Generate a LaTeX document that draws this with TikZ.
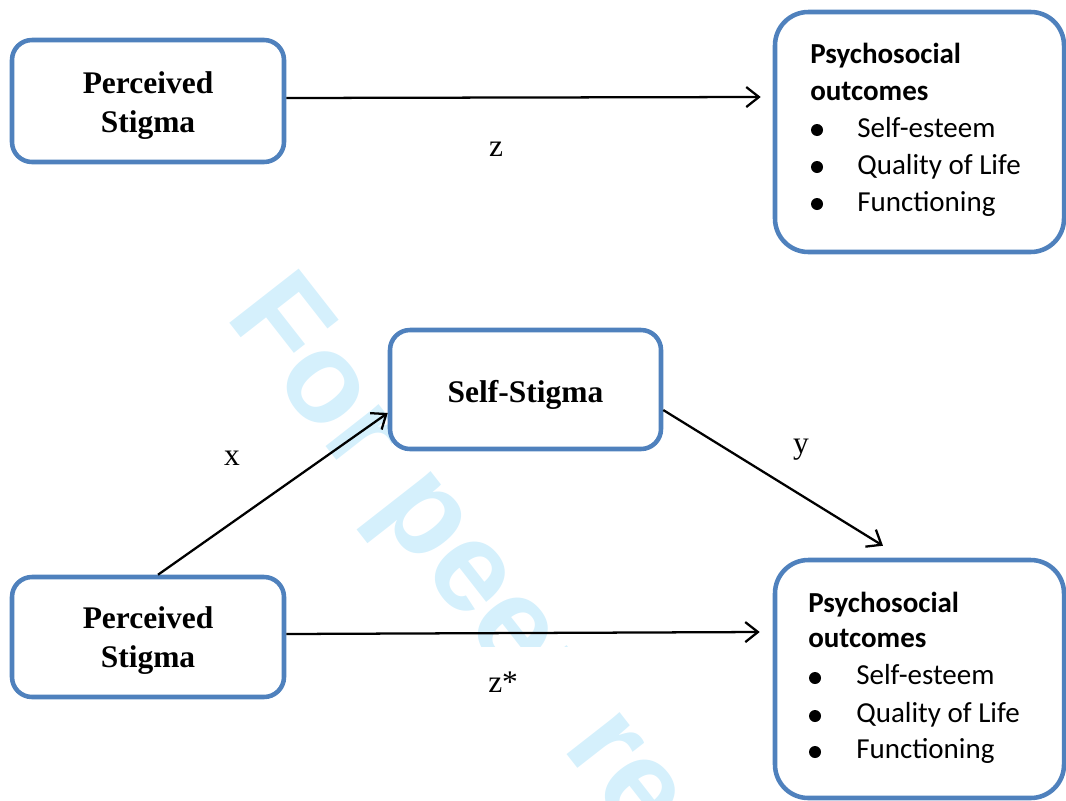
\documentclass[tikz,border=0pt]{standalone}
\usepackage{fontspec}
\setmainfont{Liberation Serif}
\newfontfamily\calfont{Carlito}
\newfontfamily\wmfont{Liberation Sans}
\usetikzlibrary{arrows.meta}
\definecolor{boxblue}{RGB}{79,129,189}
\definecolor{wmblue}{RGB}{213,240,252}
\begin{document}
\begin{tikzpicture}[x=0.75pt,y=-0.75pt,
  box/.style={draw=boxblue, line width=3.4pt, fill=white, rounded corners=15pt, inner sep=0pt},
  bigbox/.style={box, rounded corners=25pt},
  lbl/.style={font=\bfseries\fontsize{23.6}{28.8}\selectfont, align=center, inner sep=0pt},
  edgelbl/.style={font=\fontsize{23.6}{28.8}\selectfont, anchor=base, inner sep=0pt},
  arr/.style={line width=1.7pt, -{Straight Barb[length=9.5pt,width=15pt,line width=1.7pt]}},
  psyh/.style={font=\calfont\bfseries\fontsize{21.75}{27.75}\selectfont, anchor=base west, inner sep=0pt},
  psyi/.style={font=\calfont\fontsize{21.75}{27.75}\selectfont, anchor=base west, inner sep=0pt},
  bul/.style={circle, fill=black, inner sep=0pt, minimum size=9pt},
  wmark/.style={font=\wmfont\bfseries\fontsize{96}{96}\selectfont, text=wmblue, rotate=-52, anchor=base west, inner sep=0pt}
]
\useasboundingbox (0,0) rectangle (1066,800);
\clip (0,0) rectangle (1066,800);

% watermark
\node[wmark] (wm) at (224,316) {For peer review};
\fill[white] (290,647) rectangle (760,705);

% boxes
\node[box, minimum width=204pt, minimum height=91.5pt] (ps1) at (148,101) {};
\node[lbl] (ps1t) at ([yshift=-3.4pt]ps1.center) {Perceived\\Stigma};

\node[bigbox, minimum width=216.75pt, minimum height=180pt] (psy1) at (919.5,132) {};
\node[psyh] (psy1a) at (810,63) {Psychosocial};
\node[psyh] (psy1b) at (810,100) {outcomes};
\node[bul] (b11) at (817,130) {};
\node[psyi] (psy1c) at (857,137) {Self-esteem};
\node[bul] (b12) at (817,167) {};
\node[psyi] (psy1d) at (857,174) {Quality of Life};
\node[bul] (b13) at (817,204) {};
\node[psyi] (psy1e) at (857,211) {Functioning};

\node[box, minimum width=203.25pt, minimum height=89.25pt] (ss) at (525.5,389.5) {};
\node[lbl] (sst) at ([yshift=-4.1pt]ss.center) {Self-Stigma};

\node[box, minimum width=204pt, minimum height=90pt] (ps2) at (148,637) {};
\node[lbl] (ps2t) at ([yshift=-2.6pt]ps2.center) {Perceived\\Stigma};

\node[bigbox, minimum width=216.75pt, minimum height=178.5pt] (psy2) at (919.5,679) {};
\node[psyh] (psy2a) at (808,612) {Psychosocial};
\node[psyh] (psy2b) at (808,647) {outcomes};
\node[bul] (b21) at (815,678) {};
\node[psyi] (psy2c) at (856,684) {Self-esteem};
\node[bul] (b22) at (815,716) {};
\node[psyi] (psy2d) at (856,722) {Quality of Life};
\node[bul] (b23) at (815,752) {};
\node[psyi] (psy2e) at (856,758) {Functioning};

% connectors
\draw[arr] ([yshift=2.25pt]ps1.east) -- ([xshift=-9pt,yshift=26.25pt]psy1.west);
\draw[arr] ([xshift=7.5pt]ps2.north) -- ([yshift=-17.6pt]ss.west);
\draw[arr] ([yshift=-15.4pt]ss.east) -- ([xshift=-27.4pt,yshift=9pt]psy2.north);
\draw[arr] ([yshift=2.25pt]ps2.east) -- ([xshift=-9.75pt,yshift=35.25pt]psy2.west);

% labels
\node[edgelbl] (lz) at (496,156) {z};
\node[edgelbl] (lx) at (232,465) {x};
\node[edgelbl] (ly) at (801,453) {y};
\node[edgelbl, anchor=base west] (lzs) at (488,692) {z*};
\end{tikzpicture}
\end{document}
